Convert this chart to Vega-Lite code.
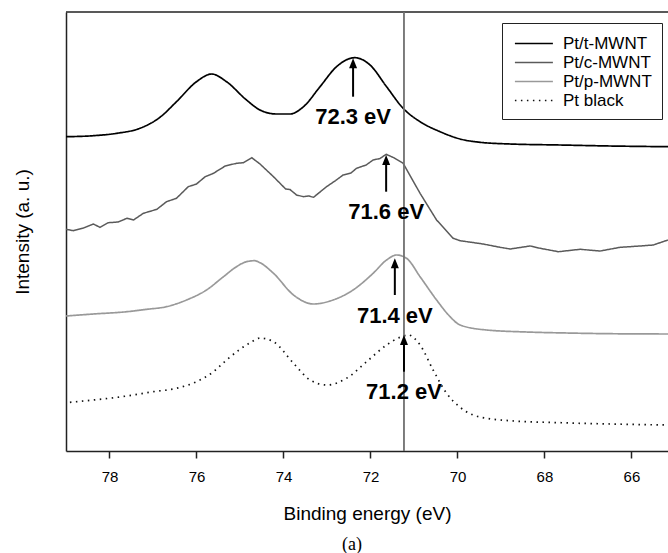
{
  "$schema": "https://vega.github.io/schema/vega-lite/v6.json",
  "width": 602,
  "height": 439,
  "autosize": {"type": "none"},
  "padding": {"left": 66, "top": 12, "right": 0, "bottom": 102},
  "background": "white",
  "config": {
    "font": "Liberation Sans",
    "view": {"stroke": null},
    "legend": {
      "orient": "none",
      "legendX": 436,
      "legendY": 11,
      "strokeColor": "#222222",
      "fillColor": "white",
      "padding": 10,
      "symbolType": "M-0.8,0L3.2,0",
      "symbolSize": 361,
      "symbolStrokeWidth": 1.5,
      "labelFont": "Liberation Sans",
      "labelFontSize": 17,
      "labelColor": "#000000",
      "labelOffset": 30,
      "rowPadding": 0,
      "labelLimit": 200
    }
  },
  "title": {
    "text": "(a)",
    "orient": "bottom",
    "anchor": "middle",
    "font": "Liberation Serif",
    "fontSize": 18,
    "fontWeight": "normal",
    "color": "#000000",
    "offset": 13,
    "dx": -15
  },
  "datasets": {
    "spectra": [
      {"series": "Pt/t-MWNT", "energy": 79.00, "intensity": 314.3},
      {"series": "Pt/t-MWNT", "energy": 78.37, "intensity": 315.3},
      {"series": "Pt/t-MWNT", "energy": 77.83, "intensity": 317.7},
      {"series": "Pt/t-MWNT", "energy": 77.30, "intensity": 322.7},
      {"series": "Pt/t-MWNT", "energy": 76.84, "intensity": 333.7},
      {"series": "Pt/t-MWNT", "energy": 76.46, "intensity": 349.3},
      {"series": "Pt/t-MWNT", "energy": 76.00, "intensity": 369.3},
      {"series": "Pt/t-MWNT", "energy": 75.65, "intensity": 377.0},
      {"series": "Pt/t-MWNT", "energy": 75.31, "intensity": 369.3},
      {"series": "Pt/t-MWNT", "energy": 74.85, "intensity": 351.0},
      {"series": "Pt/t-MWNT", "energy": 74.54, "intensity": 341.0},
      {"series": "Pt/t-MWNT", "energy": 74.16, "intensity": 337.0},
      {"series": "Pt/t-MWNT", "energy": 73.85, "intensity": 337.0},
      {"series": "Pt/t-MWNT", "energy": 73.54, "intensity": 344.3},
      {"series": "Pt/t-MWNT", "energy": 73.16, "intensity": 364.3},
      {"series": "Pt/t-MWNT", "energy": 72.78, "intensity": 384.3},
      {"series": "Pt/t-MWNT", "energy": 72.36, "intensity": 393.3},
      {"series": "Pt/t-MWNT", "energy": 72.01, "intensity": 386.0},
      {"series": "Pt/t-MWNT", "energy": 71.63, "intensity": 364.3},
      {"series": "Pt/t-MWNT", "energy": 71.25, "intensity": 342.7},
      {"series": "Pt/t-MWNT", "energy": 70.86, "intensity": 329.3},
      {"series": "Pt/t-MWNT", "energy": 70.40, "intensity": 319.3},
      {"series": "Pt/t-MWNT", "energy": 69.94, "intensity": 312.0},
      {"series": "Pt/t-MWNT", "energy": 69.48, "intensity": 308.7},
      {"series": "Pt/t-MWNT", "energy": 68.79, "intensity": 307.0},
      {"series": "Pt/t-MWNT", "energy": 67.64, "intensity": 306.0},
      {"series": "Pt/t-MWNT", "energy": 66.49, "intensity": 305.0},
      {"series": "Pt/t-MWNT", "energy": 65.16, "intensity": 304.3},

      {"series": "Pt/c-MWNT", "energy": 79.00, "intensity": 221.7},
      {"series": "Pt/c-MWNT", "energy": 78.83, "intensity": 220.3},
      {"series": "Pt/c-MWNT", "energy": 78.60, "intensity": 223.0},
      {"series": "Pt/c-MWNT", "energy": 78.37, "intensity": 227.0},
      {"series": "Pt/c-MWNT", "energy": 78.22, "intensity": 223.7},
      {"series": "Pt/c-MWNT", "energy": 78.03, "intensity": 228.3},
      {"series": "Pt/c-MWNT", "energy": 77.80, "intensity": 229.0},
      {"series": "Pt/c-MWNT", "energy": 77.60, "intensity": 232.7},
      {"series": "Pt/c-MWNT", "energy": 77.45, "intensity": 231.0},
      {"series": "Pt/c-MWNT", "energy": 77.22, "intensity": 237.7},
      {"series": "Pt/c-MWNT", "energy": 76.91, "intensity": 241.7},
      {"series": "Pt/c-MWNT", "energy": 76.69, "intensity": 249.3},
      {"series": "Pt/c-MWNT", "energy": 76.46, "intensity": 252.7},
      {"series": "Pt/c-MWNT", "energy": 76.19, "intensity": 264.3},
      {"series": "Pt/c-MWNT", "energy": 76.00, "intensity": 267.0},
      {"series": "Pt/c-MWNT", "energy": 75.80, "intensity": 274.3},
      {"series": "Pt/c-MWNT", "energy": 75.61, "intensity": 277.7},
      {"series": "Pt/c-MWNT", "energy": 75.34, "intensity": 285.0},
      {"series": "Pt/c-MWNT", "energy": 75.08, "intensity": 287.7},
      {"series": "Pt/c-MWNT", "energy": 74.92, "intensity": 288.3},
      {"series": "Pt/c-MWNT", "energy": 74.73, "intensity": 293.3},
      {"series": "Pt/c-MWNT", "energy": 74.54, "intensity": 287.0},
      {"series": "Pt/c-MWNT", "energy": 74.23, "intensity": 274.3},
      {"series": "Pt/c-MWNT", "energy": 73.95, "intensity": 262.0},
      {"series": "Pt/c-MWNT", "energy": 73.85, "intensity": 261.5},
      {"series": "Pt/c-MWNT", "energy": 73.70, "intensity": 256.0},
      {"series": "Pt/c-MWNT", "energy": 73.54, "intensity": 254.3},
      {"series": "Pt/c-MWNT", "energy": 73.42, "intensity": 255.0},
      {"series": "Pt/c-MWNT", "energy": 73.31, "intensity": 253.7},
      {"series": "Pt/c-MWNT", "energy": 73.01, "intensity": 264.3},
      {"series": "Pt/c-MWNT", "energy": 72.80, "intensity": 270.5},
      {"series": "Pt/c-MWNT", "energy": 72.63, "intensity": 276.0},
      {"series": "Pt/c-MWNT", "energy": 72.45, "intensity": 278.0},
      {"series": "Pt/c-MWNT", "energy": 72.32, "intensity": 282.7},
      {"series": "Pt/c-MWNT", "energy": 72.10, "intensity": 286.0},
      {"series": "Pt/c-MWNT", "energy": 71.94, "intensity": 291.0},
      {"series": "Pt/c-MWNT", "energy": 71.78, "intensity": 292.5},
      {"series": "Pt/c-MWNT", "energy": 71.64, "intensity": 296.7},
      {"series": "Pt/c-MWNT", "energy": 71.45, "intensity": 293.0},
      {"series": "Pt/c-MWNT", "energy": 71.25, "intensity": 287.7},
      {"series": "Pt/c-MWNT", "energy": 70.86, "intensity": 257.7},
      {"series": "Pt/c-MWNT", "energy": 70.48, "intensity": 231.0},
      {"series": "Pt/c-MWNT", "energy": 70.10, "intensity": 212.7},
      {"series": "Pt/c-MWNT", "energy": 69.94, "intensity": 210.3},
      {"series": "Pt/c-MWNT", "energy": 69.41, "intensity": 207.0},
      {"series": "Pt/c-MWNT", "energy": 69.02, "intensity": 203.7},
      {"series": "Pt/c-MWNT", "energy": 68.79, "intensity": 202.0},
      {"series": "Pt/c-MWNT", "energy": 68.33, "intensity": 205.0},
      {"series": "Pt/c-MWNT", "energy": 68.10, "intensity": 202.7},
      {"series": "Pt/c-MWNT", "energy": 67.68, "intensity": 199.3},
      {"series": "Pt/c-MWNT", "energy": 67.18, "intensity": 201.7},
      {"series": "Pt/c-MWNT", "energy": 66.72, "intensity": 200.0},
      {"series": "Pt/c-MWNT", "energy": 66.26, "intensity": 203.7},
      {"series": "Pt/c-MWNT", "energy": 65.80, "intensity": 205.0},
      {"series": "Pt/c-MWNT", "energy": 65.50, "intensity": 206.0},
      {"series": "Pt/c-MWNT", "energy": 65.16, "intensity": 211.0},

      {"series": "Pt/p-MWNT", "energy": 79.00, "intensity": 135.0},
      {"series": "Pt/p-MWNT", "energy": 78.37, "intensity": 137.0},
      {"series": "Pt/p-MWNT", "energy": 77.60, "intensity": 139.3},
      {"series": "Pt/p-MWNT", "energy": 77.14, "intensity": 141.7},
      {"series": "Pt/p-MWNT", "energy": 76.69, "intensity": 144.3},
      {"series": "Pt/p-MWNT", "energy": 76.23, "intensity": 151.0},
      {"series": "Pt/p-MWNT", "energy": 75.77, "intensity": 161.0},
      {"series": "Pt/p-MWNT", "energy": 75.38, "intensity": 174.3},
      {"series": "Pt/p-MWNT", "energy": 75.08, "intensity": 184.3},
      {"series": "Pt/p-MWNT", "energy": 74.85, "intensity": 189.3},
      {"series": "Pt/p-MWNT", "energy": 74.66, "intensity": 190.3},
      {"series": "Pt/p-MWNT", "energy": 74.54, "intensity": 188.3},
      {"series": "Pt/p-MWNT", "energy": 74.23, "intensity": 177.7},
      {"series": "Pt/p-MWNT", "energy": 73.77, "intensity": 156.0},
      {"series": "Pt/p-MWNT", "energy": 73.31, "intensity": 147.0},
      {"series": "Pt/p-MWNT", "energy": 72.86, "intensity": 151.0},
      {"series": "Pt/p-MWNT", "energy": 72.40, "intensity": 161.0},
      {"series": "Pt/p-MWNT", "energy": 71.94, "intensity": 177.7},
      {"series": "Pt/p-MWNT", "energy": 71.63, "intensity": 191.0},
      {"series": "Pt/p-MWNT", "energy": 71.40, "intensity": 196.0},
      {"series": "Pt/p-MWNT", "energy": 71.17, "intensity": 192.7},
      {"series": "Pt/p-MWNT", "energy": 70.86, "intensity": 174.3},
      {"series": "Pt/p-MWNT", "energy": 70.48, "intensity": 151.0},
      {"series": "Pt/p-MWNT", "energy": 70.17, "intensity": 134.3},
      {"series": "Pt/p-MWNT", "energy": 69.94, "intensity": 126.0},
      {"series": "Pt/p-MWNT", "energy": 69.33, "intensity": 121.0},
      {"series": "Pt/p-MWNT", "energy": 68.41, "intensity": 119.0},
      {"series": "Pt/p-MWNT", "energy": 67.49, "intensity": 118.0},
      {"series": "Pt/p-MWNT", "energy": 66.49, "intensity": 117.3},
      {"series": "Pt/p-MWNT", "energy": 65.16, "intensity": 117.0},

      {"series": "Pt black", "energy": 78.91, "intensity": 48.7},
      {"series": "Pt black", "energy": 78.37, "intensity": 51.0},
      {"series": "Pt black", "energy": 77.60, "intensity": 55.0},
      {"series": "Pt black", "energy": 76.99, "intensity": 59.3},
      {"series": "Pt black", "energy": 76.46, "intensity": 62.7},
      {"series": "Pt black", "energy": 76.00, "intensity": 69.3},
      {"series": "Pt black", "energy": 75.61, "intensity": 79.3},
      {"series": "Pt black", "energy": 75.31, "intensity": 91.0},
      {"series": "Pt black", "energy": 75.00, "intensity": 101.7},
      {"series": "Pt black", "energy": 74.73, "intensity": 109.3},
      {"series": "Pt black", "energy": 74.54, "intensity": 113.0},
      {"series": "Pt black", "energy": 74.23, "intensity": 109.3},
      {"series": "Pt black", "energy": 73.77, "intensity": 87.7},
      {"series": "Pt black", "energy": 73.39, "intensity": 71.0},
      {"series": "Pt black", "energy": 73.01, "intensity": 66.0},
      {"series": "Pt black", "energy": 72.55, "intensity": 72.7},
      {"series": "Pt black", "energy": 72.09, "intensity": 89.3},
      {"series": "Pt black", "energy": 71.63, "intensity": 106.0},
      {"series": "Pt black", "energy": 71.32, "intensity": 113.7},
      {"series": "Pt black", "energy": 71.13, "intensity": 116.0},
      {"series": "Pt black", "energy": 70.86, "intensity": 106.0},
      {"series": "Pt black", "energy": 70.56, "intensity": 81.0},
      {"series": "Pt black", "energy": 70.25, "intensity": 57.7},
      {"series": "Pt black", "energy": 69.94, "intensity": 43.7},
      {"series": "Pt black", "energy": 69.64, "intensity": 36.0},
      {"series": "Pt black", "energy": 69.33, "intensity": 32.7},
      {"series": "Pt black", "energy": 68.79, "intensity": 30.3},
      {"series": "Pt black", "energy": 67.64, "intensity": 28.3},
      {"series": "Pt black", "energy": 66.49, "intensity": 27.0},
      {"series": "Pt black", "energy": 65.16, "intensity": 26.0}
    ],
    "arrows": [
      {"energy": 72.40, "tip": 392.7, "top": 388, "base": 354.3, "labely": 334, "label": "72.3 eV"},
      {"energy": 71.64, "tip": 296.0, "top": 291, "base": 259.3, "labely": 239.3, "label": "71.6 eV"},
      {"energy": 71.44, "tip": 192.7, "top": 188, "base": 156.0, "labely": 135.0, "label": "71.4 eV"},
      {"energy": 71.23, "tip": 116.0, "top": 111, "base": 79.3, "labely": 59.3, "label": "71.2 eV"}
    ],
    "marker": [{"energy": 71.23}],
    "frame": [{"intensity": 439}]
  },
  "layer": [
    {
      "data": {"name": "spectra"},
      "transform": [{"filter": "datum.series !== 'Pt/c-MWNT'"}],
      "mark": {"type": "line", "interpolate": "monotone", "strokeWidth": 1.7},
      "encoding": {
        "x": {
          "field": "energy", "type": "quantitative",
          "scale": {"domain": [79, 65.16], "nice": false, "zero": false},
          "axis": {
            "values": [78, 76, 74, 72, 70, 68, 66],
            "grid": false,
            "domainColor": "#222222", "domainWidth": 1.5,
            "tickColor": "#222222", "tickWidth": 1.5, "tickSize": 7,
            "labelFontSize": 15, "labelColor": "#000000", "labelPadding": 11,
            "title": "Binding energy (eV)", "titleFontSize": 19, "titleFontWeight": "normal",
            "titleColor": "#000000", "titlePadding": 20
          }
        },
        "y": {
          "field": "intensity", "type": "quantitative",
          "scale": {"domain": [0, 439], "nice": false, "zero": false},
          "axis": {
            "labels": false, "ticks": false, "grid": false,
            "domainColor": "#222222", "domainWidth": 1.5,
            "title": "Intensity (a. u.)", "titleFontSize": 19, "titleFontWeight": "normal",
            "titleColor": "#000000", "titlePadding": 34
          }
        },
        "color": {
          "field": "series", "type": "nominal",
          "scale": {"domain": ["Pt/t-MWNT", "Pt/c-MWNT", "Pt/p-MWNT", "Pt black"], "range": ["#000000", "#5a5a5a", "#999999", "#111111"]},
          "legend": {"title": null}
        },
        "strokeDash": {
          "field": "series", "type": "nominal",
          "scale": {"domain": ["Pt/t-MWNT", "Pt/c-MWNT", "Pt/p-MWNT", "Pt black"], "range": [[1, 0], [1, 0], [1, 0], [1.5, 4.5]]},
          "legend": {"title": null}
        }
      }
    },
    {
      "data": {"name": "spectra"},
      "transform": [{"filter": "datum.series === 'Pt/c-MWNT'"}],
      "mark": {"type": "line", "interpolate": "linear", "strokeWidth": 1.5},
      "encoding": {
        "x": {"field": "energy", "type": "quantitative"},
        "y": {"field": "intensity", "type": "quantitative"},
        "color": {"field": "series", "type": "nominal", "legend": {"title": null}},
        "strokeDash": {"field": "series", "type": "nominal", "legend": {"title": null}}
      }
    },
    {
      "data": {"name": "frame"},
      "mark": {"type": "rule", "color": "#222222", "strokeWidth": 1.5},
      "encoding": {"y": {"field": "intensity", "type": "quantitative"}}
    },
    {
      "data": {"name": "marker"},
      "mark": {"type": "rule", "color": "#707070", "strokeWidth": 1.8},
      "encoding": {"x": {"field": "energy", "type": "quantitative"}}
    },
    {
      "data": {"name": "arrows"},
      "mark": {"type": "rule", "color": "#000000", "strokeWidth": 2},
      "encoding": {
        "x": {"field": "energy", "type": "quantitative"},
        "y": {"field": "base", "type": "quantitative"},
        "y2": {"field": "top"}
      }
    },
    {
      "data": {"name": "arrows"},
      "mark": {"type": "point", "shape": "M0,0L-0.8,2L0.8,2Z", "filled": true, "color": "#000000", "opacity": 1, "size": 100, "strokeWidth": 0},
      "encoding": {
        "x": {"field": "energy", "type": "quantitative"},
        "y": {"field": "tip", "type": "quantitative"}
      }
    },
    {
      "data": {"name": "arrows"},
      "mark": {"type": "text", "font": "Liberation Sans", "fontWeight": "bold", "fontSize": 22, "align": "center", "baseline": "middle", "color": "#000000"},
      "encoding": {
        "x": {"field": "energy", "type": "quantitative"},
        "y": {"field": "labely", "type": "quantitative"},
        "text": {"field": "label", "type": "nominal"}
      }
    }
  ]
}
